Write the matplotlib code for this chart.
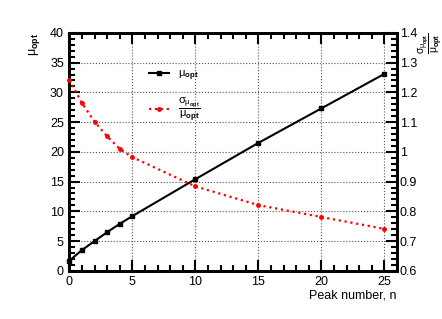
import numpy as np
import matplotlib.pyplot as plt
from matplotlib.ticker import MultipleLocator

plt.rcParams['font.family'] = ['Liberation Sans', 'DejaVu Sans']
plt.rcParams['mathtext.fontset'] = 'custom'
plt.rcParams['mathtext.rm'] = 'Liberation Sans'
plt.rcParams['mathtext.it'] = 'Liberation Sans:italic'
plt.rcParams['mathtext.bf'] = 'Liberation Sans:bold'

# peak number and fitted values
peak_n = [0, 1, 2, 3, 4, 5, 10, 15, 20, 25]
mu_opt = [1.7, 3.5, 5.0, 6.5, 7.9, 9.2, 15.4, 21.5, 27.3, 33.1]
rel_sigma = [1.242, 1.164, 1.101, 1.052, 1.010, 0.982, 0.884, 0.821, 0.781, 0.741]

mu_lbl = r'$\mathrm{μ}_{\mathbf{opt}}$'
frac_lbl = r'$\dfrac{\mathrm{σ}_{\mathrm{μ}_{\mathbf{opt}}}}{\mathrm{μ}_{\mathbf{opt}}}$'

fig = plt.figure(figsize=(4.42, 3.19), dpi=100)
ax = fig.add_axes([0.157, 0.151, 0.741, 0.746])
ax2 = ax.twinx()

l1, = ax.plot(peak_n, mu_opt, color='black', lw=1.5, marker='s', ms=2.5,
              label=mu_lbl, clip_on=False, zorder=3)
l2, = ax2.plot(peak_n, rel_sigma, color='red', lw=1.6, ls=':', marker='o', ms=2.5,
               label=frac_lbl, clip_on=False, zorder=3)

ax.set_xlim(0, 26)
ax.set_ylim(0, 40)
ax2.set_ylim(0.6, 1.4)

ax.xaxis.set_major_locator(MultipleLocator(5))
ax.xaxis.set_minor_locator(MultipleLocator(1))
ax.yaxis.set_major_locator(MultipleLocator(5))
ax.yaxis.set_minor_locator(MultipleLocator(1))
ax2.yaxis.set_major_locator(MultipleLocator(0.1))
ax2.yaxis.set_minor_locator(MultipleLocator(0.02))
ax2.yaxis.set_major_formatter(plt.FuncFormatter(lambda v, p: f'{v:g}'))

ax.grid(True, which='major', ls=':', color='#555555', lw=0.8)

ax.tick_params(which='both', direction='in', top=True, right=False, labelsize=9, width=1.5, pad=4)
ax.tick_params(which='major', length=8)
ax.tick_params(which='minor', length=4)
ax2.tick_params(which='both', direction='in', labelsize=9, width=1.5, pad=2)
ax2.tick_params(which='major', length=8)
ax2.tick_params(which='minor', length=4)

for a in (ax, ax2):
    for s in a.spines.values():
        s.set_linewidth(2)

ax.set_xlabel('Peak number, n', fontsize=9, loc='right', labelpad=1)
ax.set_ylabel(mu_lbl, fontsize=9, loc='top', labelpad=6)
ax2.set_ylabel(frac_lbl, fontsize=7.5, rotation=90, ha='right', va='center')
ax2.yaxis.set_label_coords(1.10, 1.0)

ax.legend(handles=[l1, l2], loc='upper left', bbox_to_anchor=(0.23, 0.87), frameon=False,
          fontsize=8, handlelength=1.8, labelspacing=1.1, borderaxespad=0)

fig.savefig('out.png', dpi=100)
